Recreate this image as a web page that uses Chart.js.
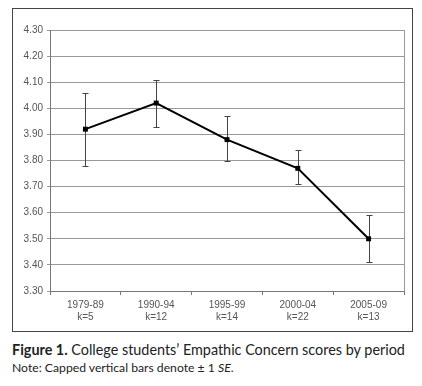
<!DOCTYPE html>
<html>
<head>
<meta charset="utf-8">
<script src="https://cdn.jsdelivr.net/npm/chart.js@4.4.1/dist/chart.umd.min.js"></script>
<style>
  html, body { margin: 0; padding: 0; background: #fff; }
  body { width: 422px; height: 386px; position: relative; overflow: hidden; }
  #box {
    position: absolute; left: 12px; top: 8px;
    width: 399px; height: 322px;
    border: 1px solid #444;
  }
  #box canvas { display: block; }
  .cap {
    position: absolute; left: 12px; white-space: nowrap;
    font-family: Lato, "Open Sans", sans-serif; color: #222;
  }
  #fig { top: 341px; font-size: 14.4px; }
  #note { top: 360px; font-size: 12.2px; }
</style>
</head>
<body>
<div id="box"><canvas id="chart" width="399" height="322"></canvas></div>
<div class="cap" id="fig"><b>Figure 1.</b> College students’ Empathic Concern scores by period</div>
<div class="cap" id="note">Note: Capped vertical bars denote ± 1 <i>SE</i>.</div>
<script>
  // ─── Data ───────────────────────────────────────────────────────────────
  const periods = ['1979-89', '1990-94', '1995-99', '2000-04', '2005-09'];
  const kCounts = [5, 12, 14, 22, 13];
  const means   = [3.92, 4.02, 3.88, 3.77, 3.50];
  const upper   = [4.06, 4.11, 3.97, 3.84, 3.59];
  const lower   = [3.78, 3.93, 3.80, 3.71, 3.41];

  const yMin = 3.3;
  const yMax = 4.3;
  const yStep = 0.1;

  const labels = periods.map(function (p, i) { return [p, 'k=' + kCounts[i]]; });

  // Capped vertical bars (±1 SE) drawn behind the line
  const errorBars = {
    id: 'errorBars',
    beforeDatasetsDraw: function (chart) {
      const ctx = chart.ctx;
      const xs = chart.scales.x;
      const ys = chart.scales.y;
      ctx.save();
      ctx.strokeStyle = '#444';
      ctx.lineWidth = 1;
      for (let i = 0; i < means.length; i++) {
        const x = Math.round(xs.getPixelForValue(i)) + 0.5;
        const yHi = Math.round(ys.getPixelForValue(upper[i])) + 0.5;
        const yLo = Math.round(ys.getPixelForValue(lower[i])) + 0.5;
        ctx.beginPath();
        ctx.moveTo(x, yHi); ctx.lineTo(x, yLo);
        ctx.moveTo(x - 3, yHi); ctx.lineTo(x + 3, yHi);
        ctx.moveTo(x - 3, yLo); ctx.lineTo(x + 3, yLo);
        ctx.stroke();
      }
      ctx.restore();
    },
    // right edge of the plot frame
    afterDraw: function (chart) {
      const a = chart.chartArea;
      const ctx = chart.ctx;
      ctx.save();
      ctx.strokeStyle = '#999';
      ctx.lineWidth = 1;
      ctx.beginPath();
      ctx.moveTo(Math.round(a.right) + 0.5, a.top);
      ctx.lineTo(Math.round(a.right) + 0.5, a.bottom);
      ctx.stroke();
      ctx.restore();
    }
  };

  new Chart(document.getElementById('chart'), {
    type: 'line',
    data: {
      labels: labels,
      datasets: [{
        data: means,
        borderColor: '#000',
        backgroundColor: '#000',
        borderWidth: 2,
        pointStyle: 'rect',
        pointRadius: 3.5,
        pointBorderWidth: 0,
        tension: 0,
        fill: false
      }]
    },
    options: {
      responsive: false,
      animation: false,
      layout: { padding: { top: 21, right: 8, left: 0, bottom: 0 } },
      plugins: {
        legend: { display: false },
        tooltip: { enabled: false }
      },
      scales: {
        x: {
          offset: true,
          grid: {
            offset: true,
            drawOnChartArea: false,
            drawTicks: true,
            tickLength: 4,
            color: '#777'
          },
          border: { color: '#777' },
          ticks: {
            color: '#555',
            font: { family: 'Liberation Sans, Arial, sans-serif', size: 10 },
            padding: 4,
            maxRotation: 0
          },
          afterFit: function (s) { s.height = 40; }
        },
        y: {
          min: yMin,
          max: yMax,
          grid: {
            color: '#999',
            tickLength: 3
          },
          border: { color: '#777' },
          ticks: {
            stepSize: yStep,
            color: '#555',
            font: { family: 'Liberation Sans, Arial, sans-serif', size: 10 },
            padding: 4,
            callback: function (v) { return Number(v).toFixed(2); }
          },
          afterFit: function (s) { s.width = 37; }
        }
      }
    },
    plugins: [errorBars]
  });
</script>
</body>
</html>
